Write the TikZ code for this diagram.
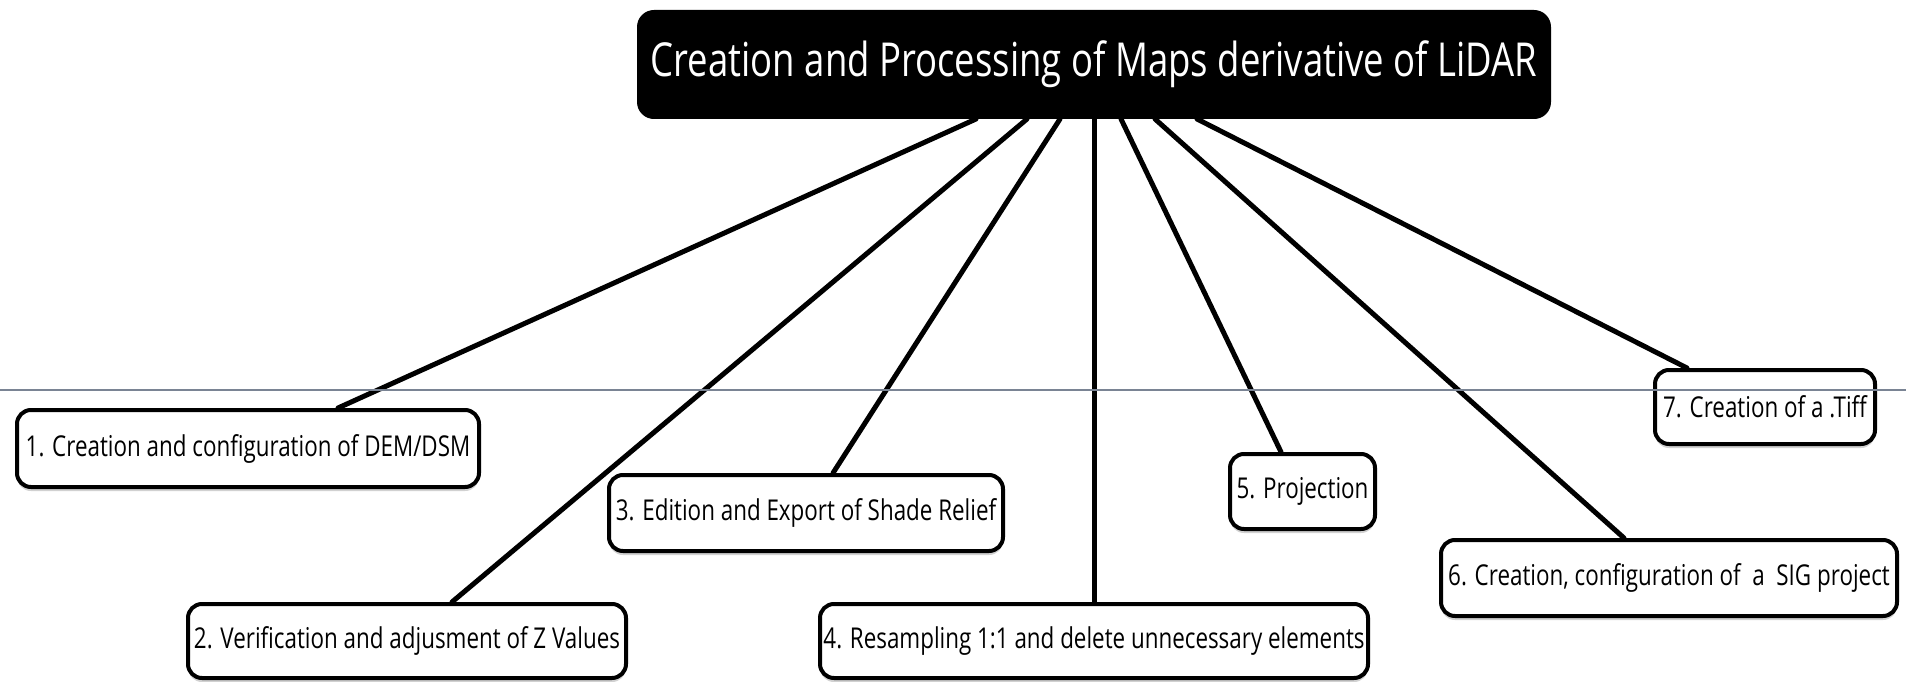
\documentclass[tikz,border=0pt]{standalone}
\usepackage{fontspec}
\newfontfamily\cf[FakeStretch=0.78]{Open Sans}
\usetikzlibrary{shadows}
\definecolor{rulegray}{HTML}{7A8494}
\begin{document}
\begin{tikzpicture}[x=1pt,y=-1pt,line join=round,
  box/.style={draw=black,line width=4pt,rounded corners=14pt,fill=white,
    font=\cf\fontsize{28.7}{34}\selectfont,inner sep=0pt,align=center,
    drop shadow={shadow xshift=0pt,shadow yshift=-4pt,fill=black!30,opacity=0.6}},
  titlebox/.style={draw=black,line width=2pt,rounded corners=16pt,fill=black,text=white,
    font=\cf\fontsize{46.8}{52}\selectfont,inner sep=0pt,align=center},
  conn/.style={line width=5pt,line cap=round}]
\useasboundingbox (0,0) rectangle (1906,682);

\node[titlebox,minimum width=912,minimum height=107] (t) at (1094,64.5)
  {Creation and Processing of Maps derivative of LiDAR};

\node[box,minimum width=462,minimum height=77] (b1) at (248,448.5)
  {1. Creation and configuration of DEM/DSM};
\node[box,minimum width=438,minimum height=74] (b2) at (407,641)
  {2. Verification and adjusment of Z Values};
\node[box,minimum width=394,minimum height=76] (b3) at (806,513)
  {3. Edition and Export of Shade Relief};
\node[box,minimum width=548,minimum height=74] (b4) at (1094,641)
  {4. Resampling 1:1 and delete unnecessary elements};
\node[box,minimum width=145,minimum height=75] (b5) at (1302.5,491.5)
  {5. Projection};
\node[box,minimum width=456,minimum height=76] (b6) at (1669,578)
  {6. Creation, configuration of\ \ a\ \ SIG project};
\node[box,minimum width=220,minimum height=74] (b7) at (1765,407)
  {7. Creation of a .Tiff};

\draw[conn] ([xshift=-118pt]t.south) -- ([xshift=90pt]b1.north);
\draw[conn] ([xshift=-67pt]t.south) -- ([xshift=45pt]b2.north);
\draw[conn] ([xshift=-34pt]t.south) -- ([xshift=27pt]b3.north);
\draw[conn] (t.south) -- (b4.north);
\draw[conn] ([xshift=27pt]t.south) -- ([xshift=-21.5pt]b5.north);
\draw[conn] ([xshift=61pt]t.south) -- ([xshift=-45pt]b6.north);
\draw[conn] ([xshift=103pt]t.south) -- ([xshift=-78pt]b7.north);

\coordinate (gl) at (0,390);
\coordinate (gr) at (1906,390);
\draw[rulegray,line width=1.6pt] (gl) -- (gr);
\end{tikzpicture}
\end{document}
